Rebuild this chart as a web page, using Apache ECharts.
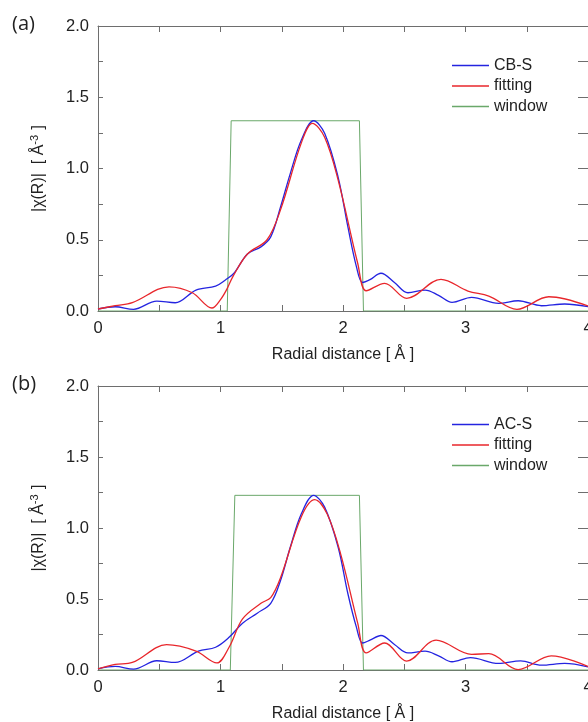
<!DOCTYPE html>
<html><head><meta charset="utf-8">
<script src="https://cdn.jsdelivr.net/npm/echarts@6/dist/echarts.min.js"></script>
<style>html,body{margin:0;padding:0;background:#fff;overflow:hidden}#c{width:588px;height:722px}</style>
</head><body><div id="c"></div>
<script>
// Panel (a)
const cbsX = [0, 0.14, 0.29, 0.48, 0.63, 0.80, 0.96, 1.04, 1.11, 1.22, 1.33, 1.41, 1.49, 1.57, 1.66, 1.76, 1.85, 1.96, 2.04, 2.11, 2.16, 2.22, 2.31, 2.42, 2.53, 2.67, 2.78, 2.89, 3.05, 3.27, 3.43, 3.62, 3.81, 4.0];
const cbsY = [0.014, 0.03, 0.012, 0.07, 0.058, 0.147, 0.175, 0.218, 0.265, 0.40, 0.45, 0.52, 0.73, 0.966, 1.2, 1.335, 1.247, 0.94, 0.59, 0.31, 0.2, 0.22, 0.265, 0.2, 0.128, 0.147, 0.11, 0.061, 0.096, 0.054, 0.072, 0.037, 0.049, 0.03];
const fitAX = [0, 0.14, 0.28, 0.58, 0.77, 0.93, 1.0, 1.05, 1.10, 1.22, 1.38, 1.49, 1.66, 1.75, 1.85, 1.96, 2.12, 2.19, 2.34, 2.52, 2.80, 3.02, 3.19, 3.42, 3.68, 4.0];
const fitAY = [0.014, 0.037, 0.058, 0.17, 0.128, 0.021, 0.08, 0.15, 0.24, 0.40, 0.50, 0.71, 1.18, 1.317, 1.22, 0.92, 0.335, 0.142, 0.194, 0.089, 0.222, 0.14, 0.105, 0.012, 0.1, 0.035];
const winAX = [0, 1.055, 1.087, 2.134, 2.167, 4.0];
const winAY = [0, 0, 1.335, 1.335, 0, 0];
// Panel (b)
const acsX = [0, 0.14, 0.29, 0.48, 0.63, 0.82, 0.96, 1.07, 1.18, 1.30, 1.41, 1.49, 1.57, 1.66, 1.76, 1.85, 1.96, 2.04, 2.11, 2.16, 2.22, 2.31, 2.42, 2.53, 2.67, 2.78, 2.89, 3.04, 3.27, 3.45, 3.62, 3.81, 4.0];
const acsY = [0.008, 0.025, 0.006, 0.065, 0.053, 0.133, 0.16, 0.23, 0.33, 0.40, 0.47, 0.63, 0.866, 1.1, 1.23, 1.147, 0.866, 0.537, 0.30, 0.19, 0.21, 0.243, 0.18, 0.12, 0.133, 0.1, 0.058, 0.087, 0.046, 0.064, 0.034, 0.046, 0.022];
const fitBX = [0, 0.14, 0.28, 0.56, 0.80, 0.97, 1.07, 1.18, 1.33, 1.41, 1.49, 1.66, 1.77, 1.87, 1.98, 2.12, 2.19, 2.34, 2.52, 2.76, 3.05, 3.19, 3.43, 3.70, 4.0];
const fitBY = [0.008, 0.039, 0.053, 0.178, 0.133, 0.05, 0.16, 0.36, 0.47, 0.51, 0.65, 1.08, 1.2, 1.1, 0.82, 0.33, 0.12, 0.19, 0.062, 0.21, 0.11, 0.115, 0.003, 0.10, 0.025];
const winBX = [0, 1.08, 1.117, 2.134, 2.167, 4.0];
const winBY = [0, 0, 1.23, 1.23, 0, 0];

const legendA = ['CB-S', 'fitting', 'window'];
const legendB = ['AC-S', 'fitting', 'window'];
const panelLabels = ['(a)', '(b)'];
const xName = 'Radial distance [ Å ]';
const yName = '|χ(R)|  [ Å{sup|-3} ]';

const zip = (xs, ys) => xs.map((x, i) => [x, ys[i]]);
const BLUE = '#2424e0', RED = '#e8262b', GREEN = '#6aa86a';
const AX = '#6e6e6e', TXT = '#222';
const FONT = 'Liberation Sans, Arial, sans-serif';

function xAxes(gi) {
  const common = {
    type: 'value', gridIndex: gi, min: 0, max: 4, interval: 1,
    axisLine: {onZero: false, lineStyle: {color: AX, width: 1}},
    axisTick: {inside: true, length: 6, lineStyle: {color: AX}},
    minorTick: {show: true, splitNumber: 2, length: 6, lineStyle: {color: AX}},
    splitLine: {show: false}, minorSplitLine: {show: false}
  };
  return [
    Object.assign({}, common, {position: 'bottom',
      axisLabel: {color: TXT, fontSize: 16.5, fontFamily: FONT, margin: 9},
      name: xName, nameLocation: 'middle', nameGap: 36,
      nameTextStyle: {color: TXT, fontSize: 16, fontFamily: FONT}}),
    Object.assign({}, common, {position: 'top', axisLabel: {show: false}})
  ];
}
function yAxes(gi) {
  const common = {
    type: 'value', gridIndex: gi, min: 0, max: 2, interval: 0.5,
    axisLine: {show: true, onZero: false, lineStyle: {color: AX, width: 1}},
    axisTick: {show: true, inside: true, length: 5, lineStyle: {color: AX}},
    minorTick: {show: true, splitNumber: 2, length: 5, lineStyle: {color: AX}},
    splitLine: {show: false}, minorSplitLine: {show: false}
  };
  return [
    Object.assign({}, common, {position: 'left',
      axisLabel: {color: TXT, fontSize: 16.5, fontFamily: FONT, margin: 9, formatter: v => v.toFixed(1)},
      name: yName, nameLocation: 'middle', nameGap: 50,
      nameTextStyle: {color: TXT, fontSize: 16, fontFamily: FONT,
        rich: {sup: {fontSize: 11, fontFamily: FONT, color: TXT, padding: [0, 1, 8, 0]}}}}),
    Object.assign({}, common, {position: 'right', axisLabel: {show: false},
      axisTick: {show: true, inside: true, length: 10, lineStyle: {color: AX}},
      minorTick: {show: true, splitNumber: 2, length: 10, lineStyle: {color: AX}}})
  ];
}
function line(name, data, color, xi, yi, smooth) {
  return {type: 'line', name, data, xAxisIndex: xi, yAxisIndex: yi, showSymbol: false,
    smooth: smooth ? 0.35 : false, lineStyle: {color, width: smooth ? 1.3 : 1}, itemStyle: {color}, z: smooth ? 3 : 2, animation: false};
}
function legend(names, top) {
  return {data: names, orient: 'vertical', left: 452, top, padding: 0, icon: 'rect', itemWidth: 37, itemHeight: 1.5,
    itemGap: 3.5, selectedMode: false,
    textStyle: {color: TXT, fontSize: 16, fontFamily: FONT, lineHeight: 17}};
}

const chart = echarts.init(document.getElementById('c'), null, {renderer: 'canvas'});
chart.setOption({
  backgroundColor: '#fff',
  animation: false,
  title: [
    {text: panelLabels[0], left: 12, top: 14, padding: 0, textStyle: {fontSize: 20, fontWeight: 'normal', color: TXT, fontFamily: 'Open Sans'}},
    {text: panelLabels[1], left: 12, top: 374, padding: 0, textStyle: {fontSize: 20, fontWeight: 'normal', color: TXT, fontFamily: 'Open Sans'}}
  ],
  grid: [
    {left: 98, top: 26, width: 490, height: 285, outerBoundsMode: 'none', containLabel: false},
    {left: 98, top: 386, width: 490, height: 284, outerBoundsMode: 'none', containLabel: false}
  ],
  xAxis: [...xAxes(0), ...xAxes(1)],
  yAxis: [...yAxes(0), ...yAxes(1)],
  legend: [legend(legendA, 57), legend(legendB, 416)],
  series: [
    line('window', zip(winAX, winAY), GREEN, 0, 0, false),
    line('CB-S', zip(cbsX, cbsY), BLUE, 0, 0, true),
    line('fitting', zip(fitAX, fitAY), RED, 0, 0, true),
    line('window', zip(winBX, winBY), GREEN, 2, 2, false),
    line('AC-S', zip(acsX, acsY), BLUE, 2, 2, true),
    line('fitting', zip(fitBX, fitBY), RED, 2, 2, true)
  ]
});
</script></body></html>
